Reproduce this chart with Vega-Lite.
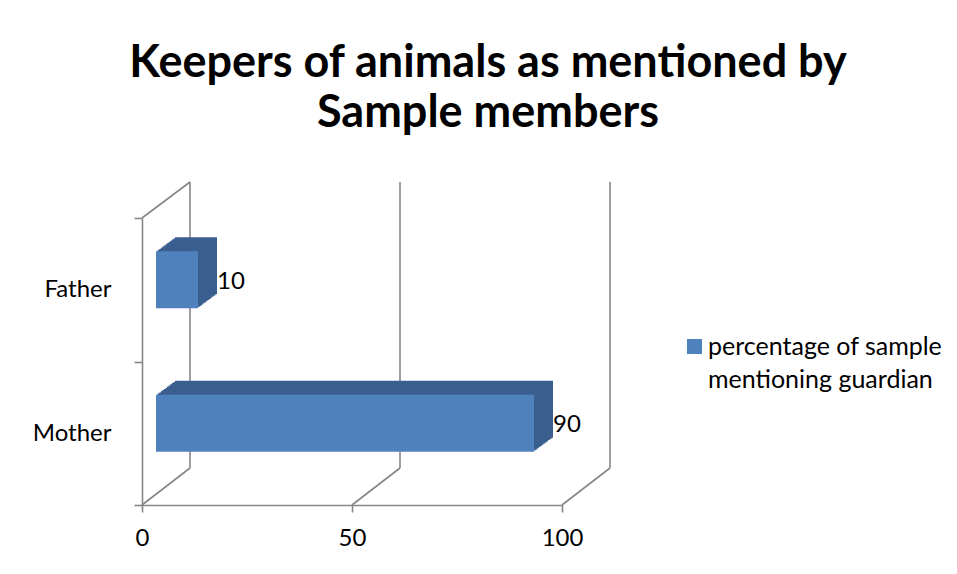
{
  "$schema": "https://vega.github.io/schema/vega-lite/v6.json",
  "width": 420,
  "height": 287,
  "autosize": {"type": "none"},
  "padding": {"left": 142, "top": 218, "right": 395, "bottom": 69},
  "background": "white",
  "title": {
    "text": ["Keepers of animals as mentioned by", "Sample members"],
    "font": "Lato",
    "fontSize": 45,
    "fontWeight": "bold",
    "color": "black",
    "anchor": "middle",
    "frame": "group",
    "dx": 136,
    "lineHeight": 50,
    "offset": 45
  },
  "data": {
    "values": [
      {"cat": "Father", "value": 10, "series": "percentage of sample mentioning guardian"},
      {"cat": "Mother", "value": 90, "series": "percentage of sample mentioning guardian"}
    ]
  },
  "layer": [
    {
      "data": {"values": [{"g": 0}, {"g": 50}, {"g": 100}]},
      "mark": {"type": "rule", "color": "#868686", "strokeWidth": 1.6, "xOffset": 48, "x2Offset": 48, "yOffset": -37, "y2Offset": -36},
      "encoding": {
        "x": {"field": "g", "type": "quantitative", "scale": {"domain": [0, 100], "nice": false},
              "axis": {"values": [0, 50, 100], "tickSize": 7, "labelPadding": 14, "labelFlush": false, "title": null}},
        "x2": {"field": "g"},
        "y": {"datum": 0, "type": "quantitative", "scale": {"domain": [0, 1]}, "axis": null},
        "y2": {"datum": 1}
      }
    },
    {
      "data": {"values": [{"g": 0}, {"g": 50}, {"g": 100}]},
      "mark": {"type": "rule", "color": "#868686", "strokeWidth": 1.6, "x2Offset": 48, "y2Offset": -37},
      "encoding": {
        "x": {"field": "g", "type": "quantitative"},
        "x2": {"field": "g"},
        "y": {"datum": 0, "type": "quantitative", "scale": {"domain": [0, 1]}, "axis": null},
        "y2": {"datum": 0}
      }
    },
    {
      "data": {"values": [{"g": 0}]},
      "mark": {"type": "rule", "color": "#868686", "strokeWidth": 1.6, "x2Offset": 48, "y2Offset": -36},
      "encoding": {
        "x": {"field": "g", "type": "quantitative"},
        "x2": {"field": "g"},
        "y": {"datum": 1, "type": "quantitative", "scale": {"domain": [0, 1]}, "axis": null},
        "y2": {"datum": 1}
      }
    },
    {
      "encoding": {
        "y": {"field": "cat", "type": "nominal", "scale": {"paddingInner": 0, "paddingOuter": 0},
              "axis": {"tickBand": "extent", "tickSize": 8, "labelPadding": 23, "title": null}},
        "x": {"field": "value", "type": "quantitative"}
      },
      "layer": [
        {"mark": {"type": "bar", "size": 57, "color": "#3a5f8f", "xOffset": 33, "x2Offset": 33, "yOffset": -24, "y2Offset": -24}},
        {"mark": {"type": "bar", "size": 57, "color": "#3a5f8f", "xOffset": 31.4, "x2Offset": 31.4, "yOffset": -22.8, "y2Offset": -22.8}},
        {"mark": {"type": "bar", "size": 57, "color": "#3a5f8f", "xOffset": 29.8, "x2Offset": 29.8, "yOffset": -21.7, "y2Offset": -21.7}},
        {"mark": {"type": "bar", "size": 57, "color": "#3a5f8f", "xOffset": 28.2, "x2Offset": 28.2, "yOffset": -20.5, "y2Offset": -20.5}},
        {"mark": {"type": "bar", "size": 57, "color": "#3a5f8f", "xOffset": 26.7, "x2Offset": 26.7, "yOffset": -19.3, "y2Offset": -19.3}},
        {"mark": {"type": "bar", "size": 57, "color": "#3a5f8f", "xOffset": 25.1, "x2Offset": 25.1, "yOffset": -18.2, "y2Offset": -18.2}},
        {"mark": {"type": "bar", "size": 57, "color": "#3a5f8f", "xOffset": 23.5, "x2Offset": 23.5, "yOffset": -17, "y2Offset": -17}},
        {"mark": {"type": "bar", "size": 57, "color": "#3a5f8f", "xOffset": 21.9, "x2Offset": 21.9, "yOffset": -15.8, "y2Offset": -15.8}},
        {"mark": {"type": "bar", "size": 57, "color": "#3a5f8f", "xOffset": 20.3, "x2Offset": 20.3, "yOffset": -14.7, "y2Offset": -14.7}},
        {"mark": {"type": "bar", "size": 57, "color": "#3a5f8f", "xOffset": 18.8, "x2Offset": 18.8, "yOffset": -13.5, "y2Offset": -13.5}},
        {"mark": {"type": "bar", "size": 57, "color": "#3a5f8f", "xOffset": 17.2, "x2Offset": 17.2, "yOffset": -12.3, "y2Offset": -12.3}},
        {"mark": {"type": "bar", "size": 57, "color": "#3a5f8f", "xOffset": 15.6, "x2Offset": 15.6, "yOffset": -11.2, "y2Offset": -11.2}},
        {
          "mark": {"type": "bar", "size": 57, "xOffset": 14, "x2Offset": 14, "yOffset": -10, "y2Offset": -10},
          "encoding": {
            "color": {"field": "series", "type": "nominal", "scale": {"range": ["#4f81bd"]},
                      "legend": {"title": null, "orient": "none", "legendX": 540, "legendY": 116,
                                 "symbolType": "square", "symbolSize": 225, "symbolStrokeWidth": 0,
                                 "labelFont": "Lato", "labelFontSize": 25, "labelColor": "black", "labelLimit": 0, "labelOffset": 1,
                                 "labelExpr": "['percentage of sample', 'mentioning guardian']"}}
          }
        },
        {
          "mark": {"type": "text", "align": "left", "baseline": "middle", "xOffset": 33, "yOffset": -8, "fontSize": 24, "font": "Lato", "color": "black"},
          "encoding": {"text": {"field": "value", "type": "quantitative"}}
        }
      ]
    }
  ],
  "resolve": {"scale": {"y": "independent"}},
  "config": {
    "font": "Lato",
    "view": {"stroke": null},
    "axis": {
      "labelFont": "Lato",
      "labelFontSize": 24,
      "labelColor": "black",
      "domainColor": "#868686",
      "tickColor": "#868686",
      "domainWidth": 1.6,
      "tickWidth": 1.6,
      "grid": false
    },
    "style": {"guide-label": {"lineHeight": 33}}
  }
}
